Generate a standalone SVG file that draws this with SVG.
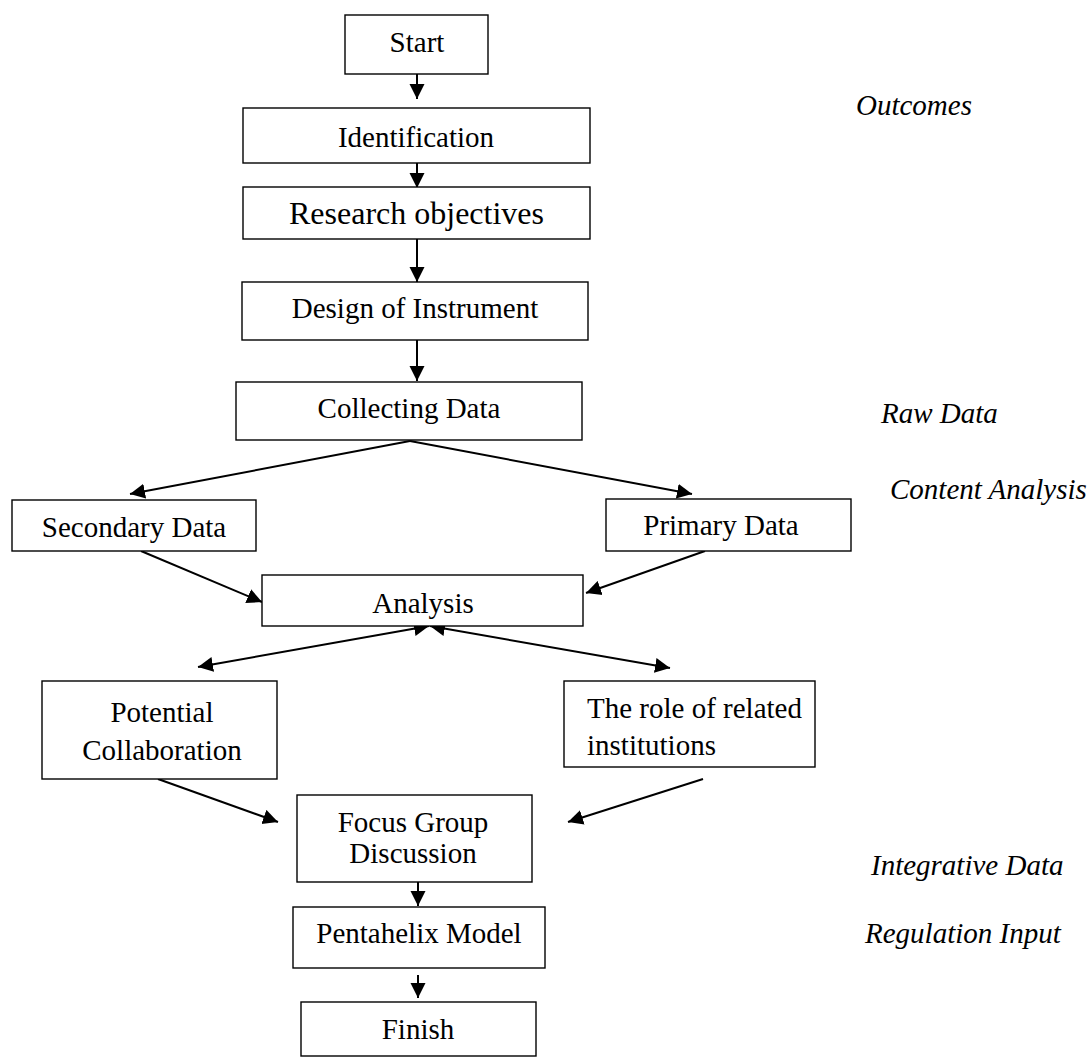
<svg xmlns="http://www.w3.org/2000/svg" width="1092" height="1057" viewBox="0 0 1092 1057">
<style>
.box{fill:#fff;stroke:#000;stroke-width:1.4}
.t{font-family:"Liberation Serif","Times New Roman",serif;font-size:29px;fill:#000;text-anchor:middle}
.l{text-anchor:start}
.i{font-family:"Liberation Serif","Times New Roman",serif;font-size:29px;font-style:italic;fill:#000}
.c{stroke:#000;stroke-width:2;fill:none;marker-end:url(#ah)}
.d{marker-start:url(#ah)}
</style>
<defs>
<marker id="ah" markerUnits="userSpaceOnUse" markerWidth="16" markerHeight="16" refX="15" refY="8" orient="auto-start-reverse">
<path d="M0,0.5 L15,8 L0,15.5 z" fill="#000"/>
</marker>
</defs>
<rect width="1092" height="1057" fill="#fff"/>
<g id="connectors">
<line class="c" x1="417" y1="74" x2="417" y2="99"/>
<line class="c" x1="417" y1="163" x2="417" y2="188"/>
<line class="c" x1="417" y1="239" x2="417" y2="282"/>
<line class="c" x1="417" y1="340" x2="417" y2="381"/>
<line class="c" x1="410" y1="441" x2="130" y2="494"/>
<line class="c" x1="410" y1="441" x2="692" y2="494"/>
<line class="c" x1="141" y1="551" x2="262" y2="602"/>
<line class="c" x1="705" y1="551" x2="586" y2="593"/>
<line class="c d" x1="429" y1="626" x2="198" y2="667"/>
<line class="c d" x1="430" y1="626" x2="670" y2="668"/>
<line class="c" x1="158" y1="779" x2="278" y2="822"/>
<line class="c" x1="703" y1="779" x2="568" y2="822"/>
<line class="c" x1="418" y1="882" x2="418" y2="906"/>
<line class="c" x1="418" y1="975" x2="418" y2="998"/>
</g>
<g id="start"><rect class="box" x="345" y="15" width="143" height="59"/><text class="t" x="417" y="52">Start</text></g>
<g id="identification"><rect class="box" x="243" y="108" width="347" height="55"/><text class="t" x="416" y="147">Identification</text></g>
<g id="research"><rect class="box" x="243" y="187" width="347" height="52"/><text class="t" x="416.5" y="224" style="font-size:32px">Research objectives</text></g>
<g id="design"><rect class="box" x="242" y="282" width="346" height="58"/><text class="t" x="415" y="318">Design of Instrument</text></g>
<g id="collecting"><rect class="box" x="236" y="382" width="346" height="58"/><text class="t" x="409" y="418">Collecting Data</text></g>
<g id="secondary"><rect class="box" x="12" y="500" width="244" height="51"/><text class="t" x="134" y="537">Secondary Data</text></g>
<g id="primary"><rect class="box" x="606" y="499" width="245" height="52"/><text class="t" x="721" y="535">Primary Data</text></g>
<g id="analysis"><rect class="box" x="262" y="575" width="321" height="51"/><text class="t" x="423" y="613">Analysis</text></g>
<g id="potential"><rect class="box" x="42" y="681" width="235" height="98"/><text class="t" x="162" y="722">Potential</text><text class="t" x="162" y="760">Collaboration</text></g>
<g id="role"><rect class="box" x="564" y="681" width="251" height="86"/><text class="t l" x="587" y="718">The role of related</text><text class="t l" x="587" y="755">institutions</text></g>
<g id="focus"><rect class="box" x="297" y="795" width="235" height="87"/><text class="t" x="413" y="832">Focus Group</text><text class="t" x="413" y="863">Discussion</text></g>
<g id="pentahelix"><rect class="box" x="293" y="907" width="252" height="61"/><text class="t" x="419" y="943">Pentahelix Model</text></g>
<g id="finish"><rect class="box" x="301" y="1002" width="235" height="54"/><text class="t" x="418" y="1039">Finish</text></g>
<g id="labels">
<text class="i" x="856" y="115">Outcomes</text>
<text class="i" x="881" y="423">Raw Data</text>
<text class="i" x="890" y="499">Content Analysis</text>
<text class="i" x="871" y="875">Integrative Data</text>
<text class="i" x="865" y="943">Regulation Input</text>
</g>
</svg>
